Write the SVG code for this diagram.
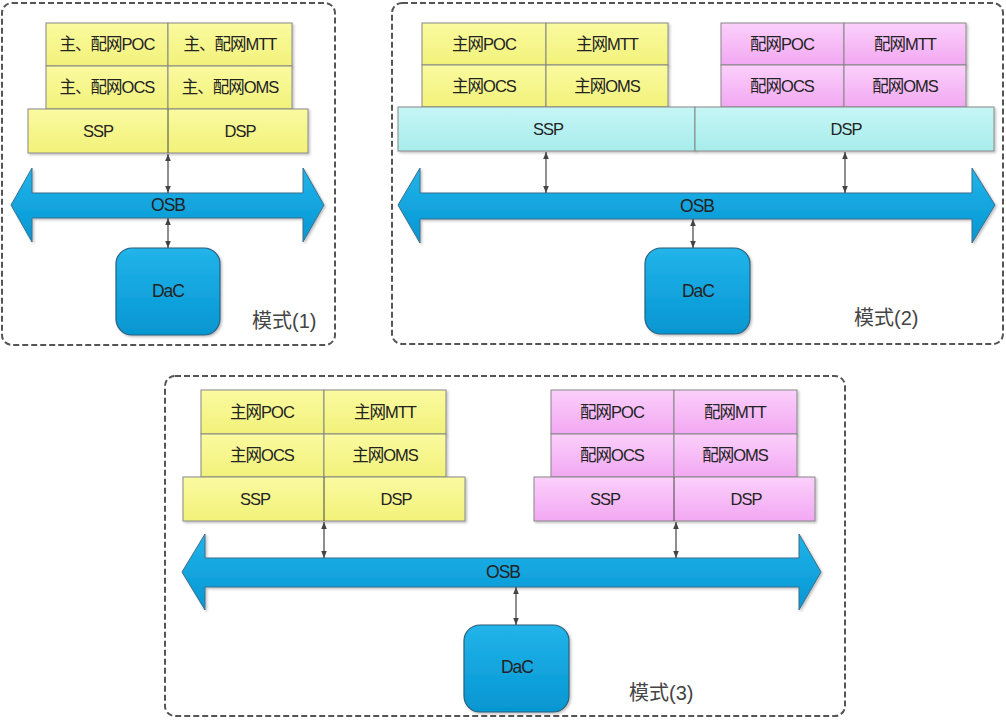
<svg xmlns="http://www.w3.org/2000/svg" width="1006" height="720" viewBox="0 0 1006 720">
<defs>
<linearGradient id="gy" x1="0" y1="0" x2="0" y2="1"><stop offset="0" stop-color="#fafaa0"/><stop offset="1" stop-color="#f2f27a"/></linearGradient>
<linearGradient id="gp" x1="0" y1="0" x2="0" y2="1"><stop offset="0" stop-color="#fbd0fb"/><stop offset="1" stop-color="#f2a8f2"/></linearGradient>
<linearGradient id="gc" x1="0" y1="0" x2="0" y2="1"><stop offset="0" stop-color="#c6f6f6"/><stop offset="1" stop-color="#a8ecec"/></linearGradient>
<linearGradient id="gb" x1="0" y1="0" x2="0" y2="1"><stop offset="0" stop-color="#22b4ea"/><stop offset="1" stop-color="#0596d2"/></linearGradient>
<filter id="sh" x="-10%" y="-10%" width="130%" height="130%"><feDropShadow dx="1.5" dy="1.5" stdDeviation="1" flood-color="#000" flood-opacity="0.25"/></filter>
<marker id="ah" viewBox="0 0 10 10" refX="10" refY="5" markerWidth="7" markerHeight="7" orient="auto-start-reverse" markerUnits="userSpaceOnUse"><path d="M0,1 L10,5 L0,9 Z" fill="#444"/></marker>
<style>
.frame{fill:#fff;stroke:#555;stroke-width:2;stroke-dasharray:6,3}
.y{fill:url(#gy);stroke:#888;stroke-width:1;filter:url(#sh)}
.p{fill:url(#gp);stroke:#888;stroke-width:1;filter:url(#sh)}
.c{fill:url(#gc);stroke:#888;stroke-width:1;filter:url(#sh)}
.bus{fill:url(#gb);stroke:#3a6f8c;stroke-width:1;filter:url(#sh)}
.dac{fill:url(#gb);stroke:#2a5f7c;stroke-width:1.2;filter:url(#sh)}
.div{stroke:#444;stroke-width:1}
.t{font-family:"Liberation Sans","Noto Sans CJK SC",sans-serif;font-size:16.5px;fill:#222;text-anchor:middle;dominant-baseline:central;letter-spacing:-1px}
.b{font-size:17.5px}
.lbl{font-family:"Liberation Sans","Noto Sans CJK SC",sans-serif;font-size:20px;fill:#444;dominant-baseline:central}
.con{stroke:#444;stroke-width:1.2;fill:none;marker-start:url(#ah);marker-end:url(#ah)}
</style>
</defs>

<rect class="frame" x="2" y="3" width="333" height="342" rx="10"/>
<rect class="frame" x="392" y="3" width="611" height="341" rx="10"/>
<rect class="frame" x="165" y="376" width="680" height="340" rx="10"/>

<!-- Mode 1 -->
<g id="m1-stack">
<rect class="y" x="46" y="23" width="122" height="43"/><text class="t" x="107" y="44">主、配网POC</text>
<rect class="y" x="168" y="23" width="124" height="43"/><text class="t" x="230" y="44">主、配网MTT</text>
<rect class="y" x="46" y="66" width="122" height="43"/><text class="t" x="107" y="87">主、配网OCS</text>
<rect class="y" x="168" y="66" width="124" height="43"/><text class="t" x="230" y="87">主、配网OMS</text>
<rect class="y" x="28" y="109" width="280" height="44"/>
<line class="div" x1="168" y1="109" x2="168" y2="153"/>
<text class="t" x="98" y="131">SSP</text><text class="t" x="240" y="131">DSP</text>
</g>
<g id="m1-osb">
<path class="bus" d="M11,205 L32,168 L32,193 L303,193 L303,168 L324,205 L303,242 L303,218 L32,218 L32,242 Z"/>
<text class="t b" x="168" y="205">OSB</text>
</g>
<g id="m1-dac">
<rect class="dac" x="116" y="248" width="104" height="87" rx="16"/>
<text class="t b" x="168" y="291">DaC</text>
</g>
<text class="lbl" x="252" y="321">模式(1)</text>

<!-- Mode 2 -->
<g id="m2-main">
<rect class="y" x="422" y="23" width="124" height="42"/><text class="t" x="484" y="44">主网POC</text>
<rect class="y" x="546" y="23" width="122" height="42"/><text class="t" x="607" y="44">主网MTT</text>
<rect class="y" x="422" y="65" width="124" height="42"/><text class="t" x="484" y="86">主网OCS</text>
<rect class="y" x="546" y="65" width="122" height="42"/><text class="t" x="607" y="86">主网OMS</text>
</g>
<g id="m2-sub">
<rect class="p" x="721" y="23" width="123" height="42"/><text class="t" x="782" y="44">配网POC</text>
<rect class="p" x="844" y="23" width="122" height="42"/><text class="t" x="905" y="44">配网MTT</text>
<rect class="p" x="721" y="65" width="123" height="42"/><text class="t" x="782" y="86">配网OCS</text>
<rect class="p" x="844" y="65" width="122" height="42"/><text class="t" x="905" y="86">配网OMS</text>
</g>
<g id="m2-ssp">
<rect class="c" x="398" y="107" width="297" height="44"/><text class="t" x="548" y="129">SSP</text>
</g>
<g id="m2-dsp">
<rect class="c" x="695" y="107" width="299" height="44"/><text class="t" x="846" y="129">DSP</text>
</g>
<g id="m2-osb">
<path class="bus" d="M398,205 L420,168 L420,193 L972,193 L972,168 L995,205 L972,243 L972,219 L420,219 L420,243 Z"/>
<text class="t b" x="697" y="206">OSB</text>
</g>
<g id="m2-dac">
<rect class="dac" x="645" y="248" width="105" height="86" rx="16"/>
<text class="t b" x="698" y="291">DaC</text>
</g>
<text class="lbl" x="854" y="318">模式(2)</text>

<!-- Mode 3 -->
<g id="m3-main">
<rect class="y" x="201" y="390" width="123" height="44"/><text class="t" x="262" y="412">主网POC</text>
<rect class="y" x="324" y="390" width="122" height="44"/><text class="t" x="385" y="412">主网MTT</text>
<rect class="y" x="201" y="434" width="123" height="43"/><text class="t" x="262" y="455">主网OCS</text>
<rect class="y" x="324" y="434" width="122" height="43"/><text class="t" x="385" y="455">主网OMS</text>
<rect class="y" x="183" y="477" width="282" height="44"/>
<line class="div" x1="324" y1="477" x2="324" y2="521"/>
<text class="t" x="255" y="499">SSP</text><text class="t" x="396" y="499">DSP</text>
</g>
<g id="m3-sub">
<rect class="p" x="551" y="390" width="123" height="44"/><text class="t" x="612" y="412">配网POC</text>
<rect class="p" x="674" y="390" width="123" height="44"/><text class="t" x="735" y="412">配网MTT</text>
<rect class="p" x="551" y="434" width="123" height="43"/><text class="t" x="612" y="455">配网OCS</text>
<rect class="p" x="674" y="434" width="123" height="43"/><text class="t" x="735" y="455">配网OMS</text>
<rect class="p" x="534" y="477" width="281" height="44"/>
<line class="div" x1="674" y1="477" x2="674" y2="521"/>
<text class="t" x="605" y="499">SSP</text><text class="t" x="746" y="499">DSP</text>
</g>
<g id="m3-osb">
<path class="bus" d="M182,572 L205,534 L205,558 L799,558 L799,534 L821,572 L799,610 L799,587 L205,587 L205,610 Z"/>
<text class="t b" x="503" y="572">OSB</text>
</g>
<g id="m3-dac">
<rect class="dac" x="464" y="625" width="105" height="87" rx="16"/>
<text class="t b" x="517" y="667">DaC</text>
</g>
<text class="lbl" x="629" y="693">模式(3)</text>

<g id="connectors">
<line class="con" x1="168" y1="154" x2="168" y2="193"/>
<line class="con" x1="168" y1="218" x2="168" y2="248"/>
<line class="con" x1="546" y1="152" x2="546" y2="193"/>
<line class="con" x1="845" y1="152" x2="845" y2="193"/>
<line class="con" x1="693" y1="219" x2="693" y2="248"/>
<line class="con" x1="324" y1="522" x2="324" y2="558"/>
<line class="con" x1="676" y1="522" x2="676" y2="558"/>
<line class="con" x1="516" y1="587" x2="516" y2="625"/>
</g>
</svg>
